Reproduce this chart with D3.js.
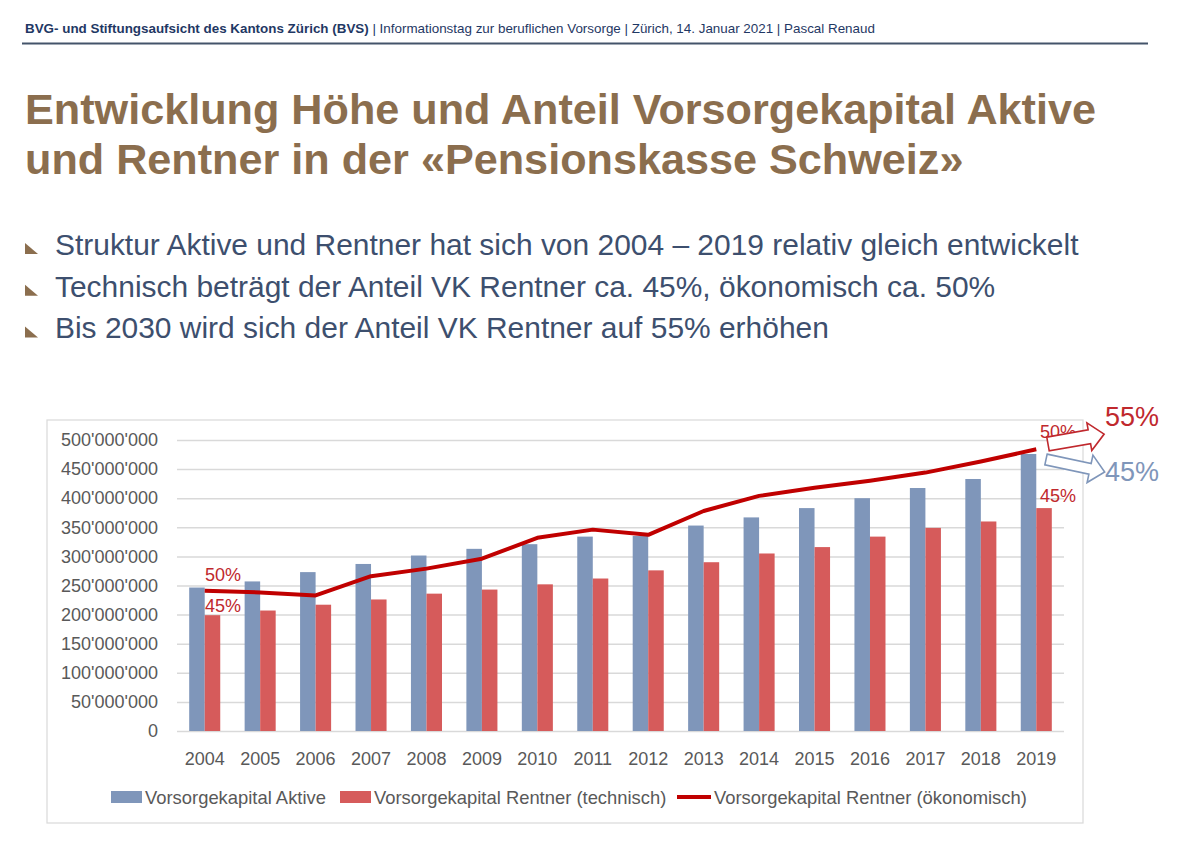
<!DOCTYPE html>
<html>
<head>
<meta charset="utf-8">
<script src="https://cdn.jsdelivr.net/npm/d3@7"></script>
<style>
  body { margin: 0; background: #fff; }
  svg { display: block; font-family: "Liberation Sans", Arial, sans-serif; }
</style>
</head>
<body>
<svg id="canvas" width="1183" height="847"></svg>
<script>
// chart data (values in CHF)
let years = ['2004','2005','2006','2007','2008','2009','2010','2011','2012','2013','2014','2015','2016','2017','2018','2019']
let aktive = [246.5, 257, 273, 287, 301.5, 313, 321, 334, 335, 353, 367, 383, 400, 417.5, 433, 476].map(v => v * 1e6)
let rentnerTech = [199, 207, 217, 226, 236, 243, 252, 262, 276, 290, 305, 316, 334, 349, 360, 383].map(v => v * 1e6)
let rentnerOek = [241, 238, 233, 266, 279, 296, 332, 346, 337, 378, 404, 418, 430, 444, 463, 484].map(v => v * 1e6)
let yTicks = [0, 50e6, 100e6, 150e6, 200e6, 250e6, 300e6, 350e6, 400e6, 450e6, 500e6]
let seriesNames = ['Vorsorgekapital Aktive', 'Vorsorgekapital Rentner (technisch)', 'Vorsorgekapital Rentner (ökonomisch)']

let bullets = [
  'Struktur Aktive und Rentner hat sich von 2004 \u2013 2019 relativ gleich entwickelt',
  'Technisch beträgt der Anteil VK Rentner ca. 45%, ökonomisch ca. 50%',
  'Bis 2030 wird sich der Anteil VK Rentner auf 55% erhöhen'
]

let canvas = d3.select('#canvas')

let blue = '#7f96ba'
let red = '#d65b5b'
let darkRed = '#c00000'
let labelRed = '#c0282d'

// header
let header = canvas.append('text').attr('x', 25).attr('y', 33)
  .style('font-size', '13.4px').attr('fill', '#1f3864')
header.append('tspan').style('font-weight', 'bold').text('BVG- und Stiftungsaufsicht des Kantons Zürich (BVS)')
header.append('tspan').text(' | Informationstag zur beruflichen Vorsorge | Zürich, 14. Januar 2021 | Pascal Renaud')
canvas.append('line').attr('x1', 22).attr('x2', 1148).attr('y1', 43.5).attr('y2', 43.5)
  .attr('stroke', '#44546a').attr('stroke-width', 2)

// title
let titleLines = ['Entwicklung Höhe und Anteil Vorsorgekapital Aktive', 'und Rentner in der «Pensionskasse Schweiz»']
canvas.selectAll('.title').data(titleLines).enter().append('text')
  .attr('class', 'title')
  .attr('x', 25).attr('y', (d, i) => 124 + i * 50)
  .style('font-size', '43.2px').style('font-weight', 'bold')
  .attr('fill', '#8b6e4e')
  .text(d => d)

// bullets
let bl = canvas.selectAll('.bullet').data(bullets).enter().append('g')
  .attr('transform', (d, i) => 'translate(0,' + (255 + i * 41.7) + ')')
bl.append('path').attr('d', 'M25,-12 L25,-1 L38,-1 Z').attr('fill', '#8b6e4e')
bl.append('text').attr('x', 55).attr('y', 0)
  .style('font-size', '29.95px').attr('fill', '#3d4f6e')
  .text(d => d)

// chart frame
canvas.append('rect').attr('x', 47).attr('y', 420).attr('width', 1036).attr('height', 403)
  .attr('fill', '#fff').attr('stroke', '#d9d9d9').attr('stroke-width', 1.2)

let x = d3.scaleBand().domain(years).range([177, 1064]).paddingInner(0.44).paddingOuter(0.22)
let xSub = d3.scaleBand().domain(['a', 'r']).range([0, x.bandwidth()])
let y = d3.scaleLinear().domain([0, 500e6]).range([731, 440])

let loc = d3.formatLocale({ decimal: '.', thousands: "'", grouping: [3], currency: ['', ''] })
let fmt = loc.format(',')

// gridlines + y labels
let yAxis = d3.axisLeft(y).tickValues(yTicks).tickFormat(fmt).tickSize(-(1064 - 177)).tickPadding(19)
let ya = canvas.append('g').attr('transform', 'translate(177,0)').call(yAxis)
ya.select('.domain').remove()
ya.selectAll('line').attr('stroke', '#d9d9d9').attr('stroke-width', 1.5)
ya.selectAll('text').style('font-size', '18px').attr('fill', '#595959')
  .style('font-family', '"Liberation Sans", Arial, sans-serif')

// x labels
let xAxis = d3.axisBottom(x).tickSize(0).tickPadding(21)
let xa = canvas.append('g').attr('transform', 'translate(0,731)').call(xAxis)
xa.select('.domain').remove()
xa.selectAll('text').style('font-size', '18px').attr('fill', '#595959')
  .style('font-family', '"Liberation Sans", Arial, sans-serif')

// bars
canvas.selectAll('.barA').data(years).enter().append('rect')
  .attr('x', d => x(d) + xSub('a'))
  .attr('y', (d, i) => y(aktive[i]))
  .attr('width', xSub.bandwidth())
  .attr('height', (d, i) => y(0) - y(aktive[i]))
  .attr('fill', blue)
canvas.selectAll('.barR').data(years).enter().append('rect')
  .attr('x', d => x(d) + xSub('r'))
  .attr('y', (d, i) => y(rentnerTech[i]))
  .attr('width', xSub.bandwidth())
  .attr('height', (d, i) => y(0) - y(rentnerTech[i]))
  .attr('fill', red)

// line
let line = d3.line().x((d, i) => x(years[i]) + x.bandwidth() / 2).y(d => y(d))
canvas.append('path').datum(rentnerOek).attr('d', line)
  .attr('fill', 'none').attr('stroke', darkRed).attr('stroke-width', 4)
  .attr('stroke-linejoin', 'round')

// percentage labels
let pct = [
  { x: 205, y: 581, t: '50%' },
  { x: 205, y: 612, t: '45%' },
  { x: 1040, y: 438, t: '50%' },
  { x: 1040, y: 502, t: '45%' }
]
canvas.selectAll('.pct').data(pct).enter().append('text')
  .attr('x', d => d.x).attr('y', d => d.y)
  .style('font-size', '18px').attr('fill', labelRed).text(d => d.t)

// block arrows
let arrow = (len, h, H, hl) => 'M0,' + (-h) + ' L' + (len - hl) + ',' + (-h) + ' L' + (len - hl) + ',' + (-H) +
  ' L' + len + ',0 L' + (len - hl) + ',' + H + ' L' + (len - hl) + ',' + h + ' L0,' + h + ' Z'
canvas.append('path').attr('d', arrow(57, 7, 14, 15))
  .attr('transform', 'translate(1048,444) rotate(-10)')
  .attr('fill', '#fff').attr('stroke', labelRed).attr('stroke-width', 1.6)
canvas.append('path').attr('d', arrow(60, 5.5, 14, 15))
  .attr('transform', 'translate(1046,459.5) rotate(12)')
  .attr('fill', '#fff').attr('stroke', blue).attr('stroke-width', 1.6)

canvas.append('text').attr('x', 1105).attr('y', 426).style('font-size', '27px')
  .attr('fill', labelRed).text('55%')
canvas.append('text').attr('x', 1105).attr('y', 481).style('font-size', '27px')
  .attr('fill', blue).text('45%')

// legend
let legend = [
  { x: 111, c: blue, type: 'rect' },
  { x: 340, c: red, type: 'rect' },
  { x: 677, c: darkRed, type: 'line' }
]
let lg = canvas.selectAll('.lg').data(legend).enter().append('g')
  .attr('transform', d => 'translate(' + d.x + ',791)')
lg.filter(d => d.type === 'rect').append('rect').attr('width', 31).attr('height', 12).attr('fill', d => d.c)
lg.filter(d => d.type === 'line').append('line').attr('x1', 0).attr('x2', 34).attr('y1', 6).attr('y2', 6)
  .attr('stroke', d => d.c).attr('stroke-width', 4)
lg.append('text').attr('x', (d, i) => d.type === 'line' ? 37 : 34).attr('y', 12.5)
  .style('font-size', '18.4px').attr('fill', '#595959')
  .text((d, i) => seriesNames[i])
</script>
</body>
</html>
